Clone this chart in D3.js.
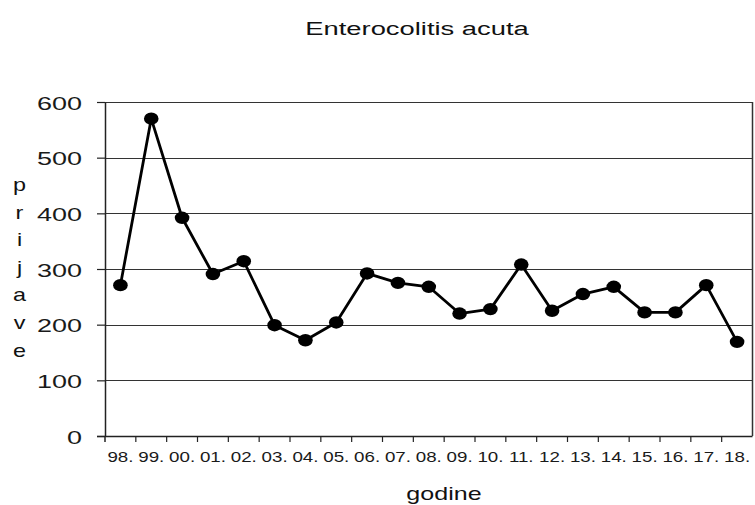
<!DOCTYPE html>
<html>
<head>
<meta charset="utf-8">
<script src="https://cdn.jsdelivr.net/npm/d3@7"></script>
<style>
  html, body { margin: 0; padding: 0; background: #fff; }
  svg { display: block; font-family: "Liberation Sans", Arial, sans-serif; }
</style>
</head>
<body>
<svg id="chart" width="755" height="505"></svg>
<script>
const categories = ["98.","99.","00.","01.","02.","03.","04.","05.","06.","07.","08.","09.","10.","11.","12.","13.","14.","15.","16.","17.","18."];
const values = [271, 570, 392, 291, 314, 199, 172, 204, 292, 275, 268, 220, 228, 308, 225, 255, 268, 222, 222, 271, 169];
const yTicks = [0, 100, 200, 300, 400, 500, 600];
const title = "Enterocolitis acuta";
const xTitle = "godine";
const yTitle = "prijave";

(function () {
const svg = d3.select("#chart");
const pLeft = 105, pRight = 752.5, pTop = 102, pBottom = 436;

const x = d3.scaleBand().domain(categories).range([pLeft, pRight]).padding(0);
const y = d3.scaleLinear().domain([0, 600]).range([pBottom, pTop]);

// gridlines
svg.append("g")
  .selectAll("line")
  .data(yTicks.filter(d => d > 0))
  .join("line")
  .attr("x1", pLeft).attr("x2", pRight)
  .attr("y1", d => Math.round(y(d)) + 0.5).attr("y2", d => Math.round(y(d)) + 0.5)
  .attr("stroke", "#333").attr("stroke-width", 1.2);

// right border
svg.append("line")
  .attr("x1", pRight).attr("x2", pRight)
  .attr("y1", pTop).attr("y2", pBottom)
  .attr("stroke", "#333").attr("stroke-width", 1.5);

// y axis
const yAxis = svg.append("g")
  .attr("transform", `translate(${pLeft},0)`)
  .call(d3.axisLeft(y).tickValues(yTicks).tickSize(8).tickSizeOuter(0).tickFormat(d3.format("d")));
yAxis.select(".domain").attr("stroke", "#222").attr("stroke-width", 1.5);
yAxis.selectAll(".tick line").attr("stroke", "#222").attr("stroke-width", 1.2);
yAxis.selectAll(".tick text")
  .attr("x", 0).attr("dy", null).attr("y", 0)
  .attr("transform", "translate(-23,7) scale(1.42,1)")
  .attr("font-size", 19).attr("fill", "#1a1a1a")
  .attr("font-family", "\"Liberation Sans\", Arial, sans-serif");

// x axis
const xAxis = svg.append("g")
  .attr("transform", `translate(0,${pBottom})`)
  .call(d3.axisBottom(x).tickSize(0).tickSizeOuter(0));
xAxis.select(".domain").attr("stroke", "#222").attr("stroke-width", 1.5)
  .attr("d", `M${pLeft - 8},0.5H${pRight}`);
xAxis.selectAll(".tick text")
  .attr("y", 0).attr("dy", null)
  .attr("transform", "translate(0,25.5) scale(1.25,1)")
  .attr("font-size", 15).attr("fill", "#1a1a1a")
  .attr("font-family", "\"Liberation Sans\", Arial, sans-serif");
// x tick marks at band boundaries
xAxis.append("g")
  .selectAll("line")
  .data(categories.slice(1))
  .join("line")
  .attr("x1", d => x(d)).attr("x2", d => x(d))
  .attr("y1", 0).attr("y2", 6)
  .attr("stroke", "#222").attr("stroke-width", 1.2);
xAxis.append("line")
  .attr("x1", pLeft).attr("x2", pLeft).attr("y1", 0).attr("y2", 6)
  .attr("stroke", "#222").attr("stroke-width", 1.5);

// line
const cx = (d, i) => x(categories[i]) + x.bandwidth() / 2;
const line = d3.line().x((d, i) => cx(d, i)).y(d => y(d));
svg.append("path")
  .datum(values)
  .attr("d", line)
  .attr("fill", "none")
  .attr("stroke", "#000")
  .attr("stroke-width", 2.8)
  .attr("stroke-linejoin", "round");

// markers
svg.append("g")
  .selectAll("ellipse")
  .data(values)
  .join("ellipse")
  .attr("cx", (d, i) => cx(d, i))
  .attr("cy", d => y(d))
  .attr("rx", 7.3).attr("ry", 6.2)
  .attr("fill", "#000");

// title
svg.append("text")
  .attr("transform", "translate(417,35) scale(1.44,1)")
  .attr("text-anchor", "middle")
  .attr("font-size", 19)
  .attr("fill", "#111")
  .text(title);

// x title
svg.append("text")
  .attr("transform", "translate(444,500) scale(1.32,1)")
  .attr("text-anchor", "middle")
  .attr("font-size", 19)
  .attr("fill", "#111")
  .text(xTitle);

// y title, stacked letters
svg.append("g")
  .selectAll("text")
  .data(yTitle.split(""))
  .join("text")
  .attr("transform", (d, i) => `translate(19.5,${191 + i * 27.6}) scale(1.3,1)`)
  .attr("text-anchor", "middle")
  .attr("font-size", 18)
  .attr("fill", "#111")
  .text(d => d);
})();
</script>
</body>
</html>
